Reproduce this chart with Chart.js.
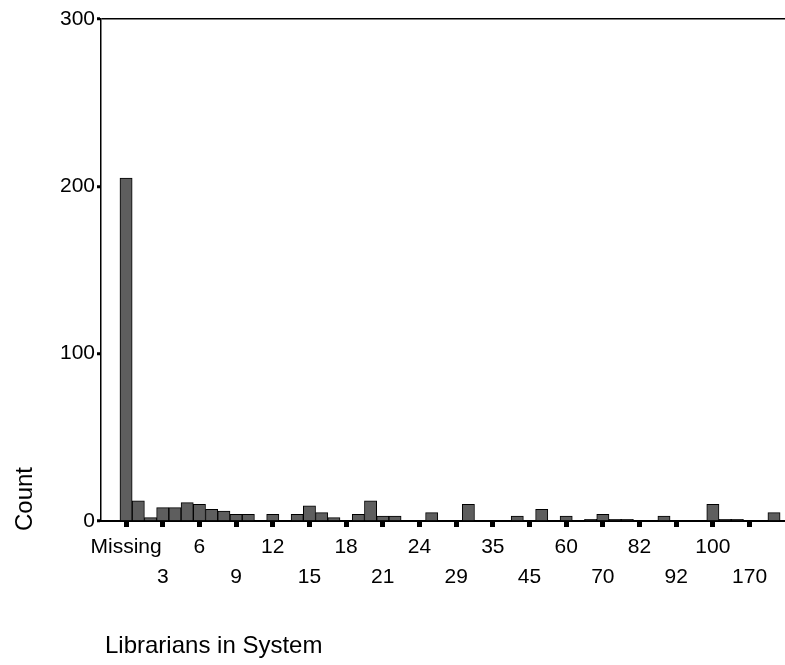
<!DOCTYPE html>
<html>
<head>
<meta charset="utf-8">
<script src="https://cdn.jsdelivr.net/npm/chart.js@4"></script>
<style>
  body { margin: 0; background: #fff; }
  #wrap { width: 785px; height: 665px; position: relative; }
</style>
</head>
<body>
<div id="wrap"><canvas id="chart"></canvas></div>
<script>
// categories (only every third one is labelled on the axis)
const categories = ['Missing', '1', '2', '3', '4', '5', '6', '7', '8', '9', '10', '11', '12', '13',
  '14', '15', '16', '17', '18', '19', '20', '21', '22', '23', '24', '25', '27', '29', '30', '32',
  '35', '38', '40', '45', '50', '55', '60', '63', '65', '70', '75', '80', '82', '85', '90', '92',
  '95', '98', '100', '120', '150', '170', '200', '250'];

// counts per category
const counts = [205, 12, 2, 8, 8, 11, 10, 7, 6, 4, 4, 0, 4, 0,
  4, 9, 5, 2, 0, 4, 12, 3, 3, 0, 0, 5, 0, 0, 10, 0,
  0, 0, 3, 0, 7, 0, 3, 0, 1, 4, 1, 1, 0, 0, 3, 0,
  0, 0, 10, 1, 1, 0, 0, 5];

const yTicks = [0, 100, 200, 300];
const labelEvery = 3;

const FONT = '"Liberation Sans", Arial, sans-serif';

// 坐标轴标题
const axisTitles = {
  id: 'axisTitles',
  afterDraw(chart) {
    const ctx = chart.ctx;
    ctx.save();
    ctx.fillStyle = '#000';
    ctx.font = '24px ' + FONT;
    ctx.textBaseline = 'alphabetic';
    ctx.textAlign = 'left';
    ctx.fillText('Librarians in System', 105, 653);
    ctx.translate(32, 531);
    ctx.rotate(-Math.PI / 2);
    ctx.fillText('Count', 0, 0);
    ctx.restore();
  }
};

new Chart(document.getElementById('chart'), {
  type: 'bar',
  data: {
    datasets: [{
      data: counts.map((v, i) => ({ x: i, y: v })),
      backgroundColor: '#5e5e5e',
      borderColor: '#000',
      borderWidth: 1,
      categoryPercentage: 1,
      barPercentage: 1
    }]
  },
  options: {
    responsive: true,
    maintainAspectRatio: false,
    animation: false,
    layout: { padding: { top: 19, left: 0, right: 0, bottom: 0 } },
    plugins: { legend: { display: false }, tooltip: { enabled: false } },
    scales: {
      x: {
        type: 'linear',
        min: -2.05,
        max: 53.9,
        offset: false,
        afterFit: s => { s.height = 665 - 521; },
        afterBuildTicks: s => {
          s.ticks = categories.map((c, i) => ({ value: i })).filter(t => t.value % labelEvery === 0);
        },
        border: { display: true, color: '#000', width: 2 },
        grid: { offset: false, drawOnChartArea: false, tickLength: 6, tickColor: '#000', tickWidth: 5 },
        ticks: {
          autoSkip: false,
          maxRotation: 0,
          padding: 5,
          color: '#000',
          font: { family: FONT, size: 21, lineHeight: 1.45 },
          callback: v => {
            const k = Math.round(v) / labelEvery;
            return k % 2 === 0 ? [categories[v], ''] : ['', categories[v]];
          }
        }
      },
      y: {
        min: 0,
        max: 300,
        afterFit: s => { s.width = 101; },
        afterBuildTicks: s => { s.ticks = yTicks.map(v => ({ value: v })); },
        border: { display: true, color: '#000', width: 1.5 },
        grid: {
          drawOnChartArea: true,
          color: c => (c.tick && c.tick.value === 300 ? '#000' : 'rgba(0,0,0,0)'),
          lineWidth: 1.5,
          tickLength: 4,
          tickColor: '#000',
          tickWidth: 3
        },
        ticks: {
          padding: 2,
          color: '#000',
          font: { family: FONT, size: 21 }
        }
      }
    }
  },
  plugins: [axisTitles]
});
</script>
</body>
</html>
